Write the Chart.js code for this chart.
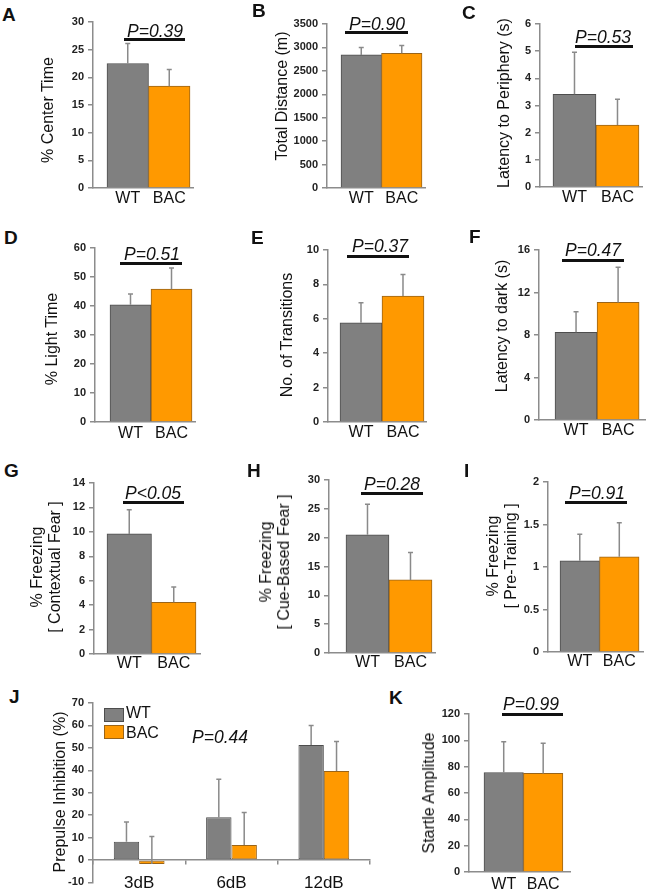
<!DOCTYPE html>
<html>
<head>
<meta charset="utf-8">
<script src="https://cdn.jsdelivr.net/npm/chart.js@4.4.1/dist/chart.umd.min.js"></script>
<style>
body { margin: 0; background: #fff; font-family: "Liberation Sans", Arial, sans-serif; color: #111; }
#fig { position: relative; width: 649px; height: 893px; overflow: hidden; }
.letter { position: absolute; font-weight: bold; font-size: 19px; line-height: 22px; }
.pval { position: absolute; font-style: italic; font-size: 17.5px; line-height: 20px; white-space: nowrap; transform: translate(-50%, -50%); }
.uline { position: absolute; height: 3px; background: #111; }
.ytitle { position: absolute; font-size: 16px; line-height: 18px; white-space: nowrap; text-align: center; transform: translate(-50%, -50%) rotate(-90deg); }
.leg { position: absolute; font-size: 16px; line-height: 18px; }
.legbox { position: absolute; box-sizing: border-box; border: 1px solid; }
</style>
</head>
<body>
<div id="fig"></div>
<script>
// groups and measured values (mean, SEM)
const groups = ['WT', 'BAC'];
const centerTime = [22.5, 18.4], centerTimeSem = [3.6, 3.0];
const totalDistance = [2840, 2875], totalDistanceSem = [156, 164];
const latencyPeriphery = [3.41, 2.28], latencyPeripherySem = [1.55, 0.95];
const lightTime = [40.4, 45.8], lightTimeSem = [3.7, 7.3];
const transitions = [5.77, 7.32], transitionsSem = [1.16, 1.26];
const latencyDark = [8.25, 11.07], latencyDarkSem = [1.95, 3.3];
const contextFear = [9.83, 4.24], contextFearSem = [1.98, 1.25];
const cueFear = [20.5, 12.67], cueFearSem = [5.3, 4.77];
const preTraining = [1.074, 1.121], preTrainingSem = [0.31, 0.40];
const startle = [75.6, 74.9], startleSem = [23.4, 22.8];
const ppiLevels = ['3dB', '6dB', '12dB'];
const ppiWT = [8.1, 19.0, 51.3], ppiWTSem = [8.8, 17.0, 8.7];
const ppiBAC = [-1.8, 6.7, 39.7], ppiBACSem = [12.3, 14.5, 13.1];

const fig = document.getElementById('fig');
const fills = ['#808080', '#ff9900'];
const edges = ['#4d4d4d', '#9a6418'];
const axisColor = '#8c8c8c';
const tickFont = { family: 'Liberation Sans', size: 11, weight: 'bold' };
const catFont = { family: 'Liberation Sans', size: 16 };

const errorBars = {
  id: 'errorBars',
  afterDatasetsDraw(chart) {
    const ctx = chart.ctx, y = chart.scales.y;
    ctx.save();
    ctx.strokeStyle = '#8a8a8a';
    ctx.lineWidth = 1.5;
    chart.data.datasets.forEach((ds, i) => {
      chart.getDatasetMeta(i).data.forEach((bar, j) => {
        const d = ds.data[j];
        const v = typeof d === 'object' ? d.y : d;
        const y0 = y.getPixelForValue(v), y1 = y.getPixelForValue(v + ds.sem[j]);
        ctx.beginPath();
        ctx.moveTo(bar.x, y0); ctx.lineTo(bar.x, y1);
        ctx.moveTo(bar.x - 2.5, y1); ctx.lineTo(bar.x + 2.5, y1);
        ctx.stroke();
      });
    });
    ctx.restore();
  }
};

function addCanvas(left, top, w, h) {
  const cv = document.createElement('canvas');
  cv.width = w; cv.height = h;
  cv.style.cssText = 'position:absolute;left:' + left + 'px;top:' + top + 'px';
  fig.appendChild(cv);
  return cv;
}

// g = [axisX, topY, zeroY, rightX]
function twoBar(g, vals, sem, yMax, step, xr, pad) {
  const [ax, ty, zy, rx] = g;
  const cv = addCanvas(ax - 40, ty - 12, rx - ax + 46, zy - ty + 38);
  new Chart(cv, {
    type: 'bar',
    data: {
      datasets: [{
        data: vals.map((v, i) => ({ x: i + 1, y: v })),
        sem: sem,
        backgroundColor: fills,
        borderColor: edges,
        borderWidth: 1,
        barPercentage: 1,
        categoryPercentage: 1
      }]
    },
    options: {
      responsive: false,
      animation: false,
      layout: { padding: { left: 0, top: 12, right: 6, bottom: 0 } },
      plugins: { legend: { display: false }, tooltip: { enabled: false } },
      scales: {
        x: {
          type: 'linear', offset: false, min: xr[0], max: xr[1],
          afterBuildTicks: s => { s.ticks = groups.map((_, i) => ({ value: i + 1 })); },
          ticks: { callback: v => groups[v - 1], font: catFont, color: '#111', padding: pad, maxRotation: 0, autoSkip: false },
          grid: { display: false, drawTicks: false },
          border: { color: axisColor, width: 1.5 },
          afterFit: s => { s.height = 26; }
        },
        y: {
          min: 0, max: yMax,
          ticks: { stepSize: step, font: tickFont, color: '#222', padding: 4, callback: v => String(v) },
          grid: { drawOnChartArea: false, tickLength: 5, color: axisColor, lineWidth: 1.5 },
          border: { color: axisColor, width: 1.5 },
          afterFit: s => { s.width = 40; }
        }
      }
    },
    plugins: [errorBars]
  });
}

twoBar([93, 22, 188, 193], centerTime, centerTimeSem, 30, 5, [0.163, 2.572], 1);
twoBar([327, 24, 188, 425], totalDistance, totalDistanceSem, 3500, 500, [0.154, 2.574], 1);
twoBar([540, 24, 187, 642], latencyPeriphery, latencyPeripherySem, 6, 1, [0.198, 2.57], 1);
twoBar([95, 248, 422, 195], lightTime, lightTimeSem, 60, 10, [0.134, 2.573], 2);
twoBar([328, 250, 422, 426], transitions, transitionsSem, 10, 2, [0.214, 2.548], 1);
twoBar([539, 250, 420, 645], latencyDark, latencyDarkSem, 16, 4, [0.119, 2.64], 1);
twoBar([94, 483, 654, 200], contextFear, contextFearSem, 14, 2, [0.208, 2.59], 0);
twoBar([329, 480, 653, 435], cueFear, cueFearSem, 30, 5, [0.105, 2.57], 0);
twoBar([548, 482, 652, 643], preTraining, preTrainingSem, 2, 0.5, [0.196, 2.60], 0);
twoBar([469, 714, 872, 570], startle, startleSem, 120, 20, [0.12, 2.68], 3);

// J: prepulse inhibition, grouped bars
const cvJ = addCanvas(53, 691, 323, 202);
new Chart(cvJ, {
  type: 'bar',
  data: {
    labels: ppiLevels,
    datasets: [
      { label: 'WT', data: ppiWT, sem: ppiWTSem, backgroundColor: fills[0], borderColor: edges[0], borderWidth: 1, borderSkipped: false },
      { label: 'BAC', data: ppiBAC, sem: ppiBACSem, backgroundColor: fills[1], borderColor: edges[1], borderWidth: 1, borderSkipped: false }
    ]
  },
  options: {
    responsive: false,
    animation: false,
    datasets: { bar: { categoryPercentage: 0.55, barPercentage: 1 } },
    layout: { padding: { left: 0, top: 12, right: 6, bottom: 8 } },
    plugins: { legend: { display: false }, tooltip: { enabled: false } },
    scales: {
      x: {
        position: { y: 0 },
        ticks: { font: { family: 'Liberation Sans', size: 17 }, color: '#111', padding: 9, maxRotation: 0 },
        grid: { drawOnChartArea: false, offset: true, tickLength: 4, color: axisColor, lineWidth: 1.5 },
        border: { color: axisColor, width: 1.5 }
      },
      y: {
        min: -10, max: 70,
        ticks: { stepSize: 10, font: tickFont, color: '#222', padding: 4 },
        grid: { drawOnChartArea: false, tickLength: 5, color: axisColor, lineWidth: 1.5 },
        border: { color: axisColor, width: 1.5 },
        afterFit: s => { s.width = 40; }
      }
    }
  },
  plugins: [errorBars]
});

// text overlays
function el(cls, css, html) {
  const d = document.createElement('div');
  d.className = cls;
  d.style.cssText = css;
  d.innerHTML = html;
  fig.appendChild(d);
}
const letters = [['A', 2, 4], ['B', 252, 0], ['C', 462, 2], ['D', 4, 227], ['E', 251, 227], ['F', 469, 226],
  ['G', 4, 460], ['H', 247, 460], ['I', 464, 460], ['J', 9, 686], ['K', 389, 687]];
letters.forEach(([t, x, y]) => el('letter', 'left:' + x + 'px;top:' + y + 'px', t));

const pLabels = [['P=0.39', 155, 31], ['P=0.90', 377, 23.5], ['P=0.53', 603, 36.5], ['P=0.51', 152, 254],
  ['P=0.37', 380, 245.5], ['P=0.47', 593, 250], ['P&lt;0.05', 153, 492.5], ['P=0.28', 392, 484],
  ['P=0.91', 597, 492.5], ['P=0.44', 220, 737], ['P=0.99', 531, 704]];
pLabels.forEach(([t, x, y]) => el('pval', 'left:' + x + 'px;top:' + y + 'px', t));

const underlines = [[38, 124, 185], [31, 345, 408], [45, 575, 633], [262, 120, 182], [255, 347, 409],
  [259, 562, 624], [501, 123, 184], [492, 361, 423], [501, 565, 627], [713, 502, 563]];
underlines.forEach(([y, x1, x2]) => el('uline', 'left:' + x1 + 'px;top:' + y + 'px;width:' + (x2 - x1) + 'px', ''));

const yTitles = [['% Center Time', 47.5, 110], ['Total Distance (m)', 281.5, 96], ['Latency to Periphery (s)', 503.5, 102.5],
  ['% Light Time', 51.5, 339], ['No. of Transitions', 286.5, 335], ['Latency to dark (s)', 501.5, 326],
  ['% Freezing<br>[ Contextual Fear ]', 45.5, 567], ['% Freezing<br>[ Cue-Based Fear ]', 275, 562],
  ['% Freezing<br>[ Pre-Training ]', 502, 556], ['Prepulse Inhibition (%)', 60, 792], ['Startle Amplitude', 428.5, 793]];
yTitles.forEach(([t, x, y]) => el('ytitle', 'left:' + x + 'px;top:' + y + 'px', t));

// legend for J
el('legbox', 'left:104px;top:708px;width:20px;height:14px;background:' + fills[0] + ';border-color:' + edges[0], '');
el('legbox', 'left:104px;top:725px;width:20px;height:14px;background:' + fills[1] + ';border-color:' + edges[1], '');
el('leg', 'left:126px;top:704px', groups[0]);
el('leg', 'left:126px;top:724px', groups[1]);
</script>
</body>
</html>
